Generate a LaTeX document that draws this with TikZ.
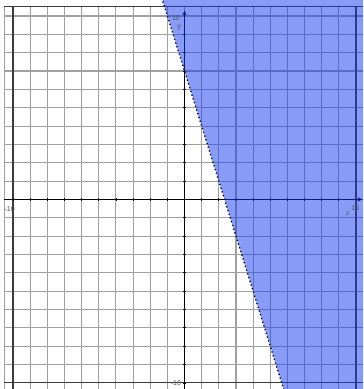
\documentclass[tikz,border=0pt]{standalone}
\usepackage{fontspec}
\setsansfont{Liberation Sans}
\usetikzlibrary{arrows.meta}
\definecolor{gridc}{RGB}{160,160,160}
\definecolor{edgec}{RGB}{60,60,60}
\definecolor{shadec}{RGB}{19,59,241}
\definecolor{labc}{RGB}{80,80,80}
\tikzset{
  gridline/.style={draw=gridc, line width=1.1pt},
  edgeline/.style={draw=edgec, line width=1.1pt},
  axisline/.style={draw=black, line width=1.4pt},
  shade/.style={fill=shadec, fill opacity=0.5},
  bound/.style={draw=black, line width=1.3pt, dash pattern=on 1.3pt off 2.6pt},
  numlab/.style={font=\sffamily\fontsize{7}{8}\selectfont, text=labc, inner sep=0pt},
  varlab/.style={font=\itshape\fontsize{8.5}{9}\selectfont, text=labc, inner sep=0pt}
}
\begin{document}
\begin{tikzpicture}[x=17.15pt,y=18.35pt]
\useasboundingbox (-10.76,-10.33) rectangle (10.41,10.87);
\clip (-10.76,-10.33) rectangle (10.41,10.87);
\fill[white] (-10.76,-10.33) rectangle (10.41,10.87);
% grid
\foreach \i in {-9,...,9} {
  \draw[gridline] (\i,-10.5) -- (\i,10.5);
  \draw[gridline] (-10.5,\i) -- (10.5,\i);
}
\draw[gridline] (-10.5,10) -- (10.5,10);
\draw[gridline] (-10.5,-10.5) -- (-10.5,10.5);
\draw[edgeline] (-10.5,10.5) -- (10.5,10.5);
\draw[edgeline] (-10,-10.5) -- (-10,10.5);
\draw[edgeline] (10,-10.5) -- (10,10.5);
\draw[edgeline] (-10.5,-10) -- (10.5,-10);
% axes
\coordinate (xl) at (-10.5,0);
\coordinate (xr) at (10.38,0);
\coordinate (yb) at (0,-10.5);
\coordinate (yt) at (0,10.3);
\draw[axisline,-{Stealth[length=5pt,width=4pt]}] (xl) -- (xr);
\draw[axisline,-{Stealth[length=5pt,width=4pt]}] (yb) -- (yt);
\foreach \i in {-10,...,-1,1,2,...,9} {
  \draw[black, line width=0.8pt] (\i,-0.06) -- (\i,0.06);
  \draw[black, line width=0.8pt] (-0.07,\i) -- (0.07,\i);
}
% shaded half-plane y >= -3x + 7
\fill[shade] (-1.4,11.2) -- (6.1,-11.3) -- (11,-11.3) -- (11,11.2) -- cycle;
% boundary
\coordinate (btop) at (-1.4,11.2);
\coordinate (bbot) at (6.1,-11.3);
\draw[bound] (btop) -- (bbot);
% labels
\node[numlab] (lxm) at (-10.2,-0.5) {-10};
\node[numlab] (lxp) at (9.95,-0.45) {10};
\node[varlab] (lx) at (9.5,-0.8) {x};
\node[numlab] (lyp) at (-0.5,9.9) {10};
\node[varlab] (ly) at (-0.35,9.35) {y};
\node[numlab] (lym) at (-0.5,-10) {-10};
\end{tikzpicture}
\end{document}
